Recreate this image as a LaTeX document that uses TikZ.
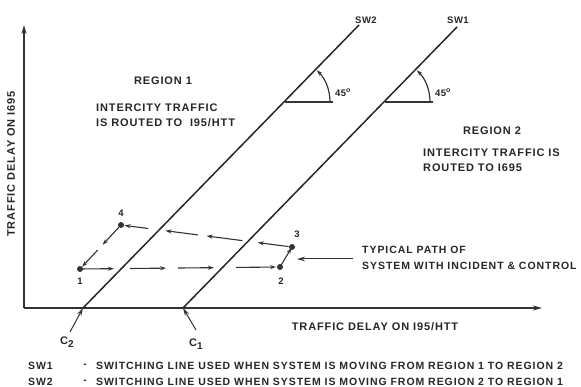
\documentclass[tikz,border=0pt]{standalone}
\usepackage{fontspec}
\setmainfont{Liberation Sans}
\usetikzlibrary{calc,arrows.meta}
\newcommand\pathseg[4]{\draw[pth] ($(#1)!#3!(#2)$) -- ($(#1)!#4!(#2)$);}
\begin{document}
\begin{tikzpicture}[x=1pt,y=-1pt,
  big/.style={font=\bfseries\fontsize{11}{15}\selectfont\addfontfeature{LetterSpace=8}, inner sep=0pt, text=black!85},
  txt/.style={font=\bfseries\fontsize{10.5}{16}\selectfont\addfontfeature{LetterSpace=9}, inner sep=0pt, text=black!85},
  small/.style={font=\bfseries\fontsize{9.5}{11}\selectfont\addfontfeature{LetterSpace=5}, inner sep=0pt, text=black!85},
  axis/.style={line width=1.4pt, black!80, -{Stealth[length=9pt,width=5pt]}},
  swline/.style={line width=1.5pt, black!85},
  pth/.style={line width=1.1pt, black!80, -{Stealth[length=6pt,width=4pt]}},
  ptr/.style={line width=1pt, black!80, -{Stealth[length=8pt,width=4.5pt]}},
  dot/.style={circle, fill=black!80, inner sep=0pt, minimum size=6pt}]
\useasboundingbox (0,0) rectangle (581,387);
% axes
\coordinate (O) at (24,308);
\coordinate (ytop) at (24,25);
\coordinate (xend) at (542,308);
\draw[axis] (O) -- (ytop);
\draw[axis] (O) -- (xend);
% switching lines
\coordinate (c2) at (83,308);
\coordinate (c1) at (183,308);
\coordinate (sw2top) at (359,25);
\coordinate (sw1top) at (457,27);
\draw[swline] (c2) -- (sw2top);
\draw[swline] (c1) -- (sw1top);
\node[small, anchor=south] (sw2lab) at (366,24) {SW2};
\node[small, anchor=south] (sw1lab) at (458,24) {SW1};
% C labels
\coordinate (c2tail) at (70,332);
\coordinate (c1tail) at (196,330);
\draw[ptr] (c2tail) -- (c2);
\draw[ptr] (c1tail) -- (c1);
\node[big] (c2lab) at (67,342) {C\raisebox{-3pt}{\fontsize{10}{10}\selectfont 2}};
\node[big] (c1lab) at (196,344) {C\raisebox{-3pt}{\fontsize{10}{10}\selectfont 1}};
% 45 degree marks
\draw[line width=1.2pt, black!80] (285,102) -- (333,102);
\draw[line width=1.2pt, black!80, -{Stealth[length=6pt,width=4pt]}] (330,102) .. controls (330,90) and (325.6,79.2) .. (316.8,70.2);
\node[small, anchor=west] (a2) at (335,93) {45\raisebox{4pt}{\fontsize{7}{8}\selectfont o}};
\draw[line width=1.2pt, black!80] (385,102) -- (433,102);
\draw[line width=1.2pt, black!80, -{Stealth[length=6pt,width=4pt]}] (430,102) .. controls (430,90) and (425.6,79.2) .. (416.8,70.2);
\node[small, anchor=west] (a1) at (435,93) {45\raisebox{4pt}{\fontsize{7}{8}\selectfont o}};
% region texts
\node[big] (r1) at (163,81) {REGION 1};
\node[big, anchor=west, align=left] (r1t) at (96,115) {INTERCITY TRAFFIC\\IS ROUTED TO\ \ I95/HTT};
\node[big] (r2) at (492,131) {REGION 2};
\node[big, anchor=west, align=left] (r2t) at (423,160) {INTERCITY TRAFFIC IS\\ROUTED TO I695};
% axis labels
\node[big, rotate=90] (ylab) at (11,164) {TRAFFIC DELAY ON I695};
\node[big] (xlab) at (375,327) {TRAFFIC DELAY ON I95/HTT};
% path points
\node[dot] (p1) at (80,269) {};
\node[dot] (p2) at (280,267) {};
\node[dot] (p3) at (292,247) {};
\node[dot] (p4) at (121,225) {};
\node[small] (l1) at (80,281) {1};
\node[small] (l2) at (281,281) {2};
\node[small] (l3) at (297,234) {3};
\node[small] (l4) at (121,213) {4};
\pathseg{p1}{p2}{0}{0.17}
\pathseg{p1}{p2}{0.25}{0.43}
\pathseg{p1}{p2}{0.49}{0.67}
\pathseg{p1}{p2}{0.78}{0.98}
\pathseg{p2}{p3}{0.1}{0.95}
\pathseg{p3}{p4}{0.02}{0.2}
\pathseg{p3}{p4}{0.29}{0.5}
\pathseg{p3}{p4}{0.55}{0.74}
\pathseg{p3}{p4}{0.84}{0.98}
\pathseg{p4}{p1}{0.05}{0.45}
\pathseg{p4}{p1}{0.57}{0.95}
% typical path
\node[txt, anchor=west, align=left] (typ) at (362,258) {TYPICAL PATH OF\\SYSTEM WITH INCIDENT \& CONTROL};
\coordinate (typtip) at (297,259);
\draw[ptr] (typ.west) ++(-9,1) coordinate (typtail) -- (typtip);
% legend
\node[txt, anchor=west] (k1) at (28,366) {SW1};
\node[txt, anchor=west] (k2) at (28,382) {SW2};
\node[txt] (d1) at (85,366) {-};
\node[txt] (d2) at (85,382) {-};
\node[txt, anchor=west] (t1) at (96,366) {SWITCHING LINE USED WHEN SYSTEM IS MOVING FROM REGION 1 TO REGION 2};
\node[txt, anchor=west] (t2) at (96,382) {SWITCHING LINE USED WHEN SYSTEM IS MOVING FROM REGION 2 TO REGION 1};
\end{tikzpicture}
\end{document}
